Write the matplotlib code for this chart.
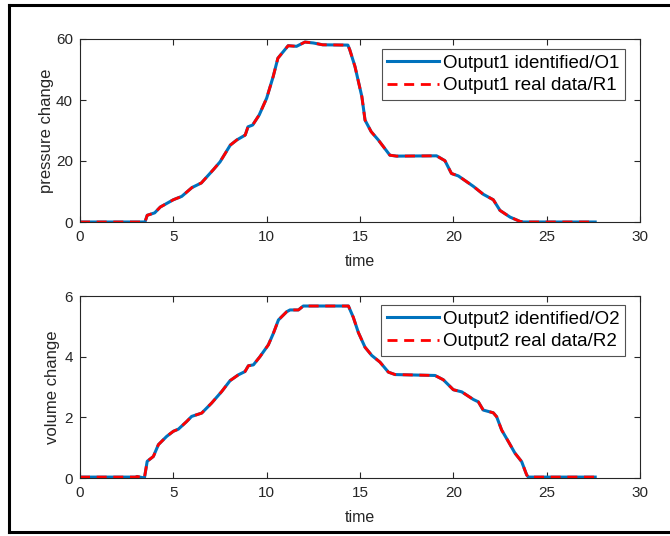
import matplotlib
matplotlib.use("Agg")
import matplotlib.pyplot as plt
from matplotlib.lines import Line2D

plt.rcParams['font.family'] = ['Liberation Sans', 'DejaVu Sans']

# output 1: pressure change
t1 = [0, 3.48, 3.6, 4.0, 4.3, 5.0, 5.45, 6.0, 6.5, 7.15, 7.5, 8.05, 8.4, 8.85,
      9.0, 9.25, 9.6, 10.0, 10.35, 10.6, 11.15, 11.6, 12.05, 12.5, 13.0, 14.35,
      14.45, 14.73, 15.1, 15.27, 15.6, 15.98, 16.6, 16.96, 19.1, 19.55, 19.9,
      20.27, 21.07, 21.6, 22.14, 22.5, 23.04, 23.57, 23.75, 27.6]
p1 = [0, 0, 2.2, 3.0, 4.9, 7.3, 8.4, 11.3, 12.8, 17.2, 19.7, 25.2, 26.9, 28.5,
      31.2, 31.8, 35.1, 40.6, 47.7, 53.7, 57.8, 57.6, 59.0, 58.7, 58.1, 58.0,
      56.5, 51.0, 41.1, 33.4, 29.6, 26.9, 21.9, 21.6, 21.7, 20.1, 15.9,
      15.1, 11.7, 9.1, 7.3, 3.8, 1.6, 0.2, 0, 0]

# output 2: volume change
t2 = [0, 3.0, 3.05, 3.45, 3.6, 3.93, 4.2, 4.64, 5.0, 5.27, 5.71, 5.98, 6.52,
      7.05, 7.59, 8.04, 8.48, 8.84, 9.02, 9.29, 9.64, 10.09, 10.36, 10.63,
      11.07, 11.25, 11.7, 11.96, 14.38, 14.64, 14.91, 15.27, 15.63, 16.07,
      16.52, 16.88, 19.02, 19.46, 20.0, 20.45, 21.07, 21.34, 21.6, 22.14,
      22.32, 22.59, 22.95, 23.3, 23.66, 23.93, 24.02, 27.6]
v2 = [0.03, 0.03, 0.05, 0.0, 0.55, 0.71, 1.10, 1.37, 1.54, 1.61, 1.86, 2.03,
      2.14, 2.47, 2.85, 3.21, 3.40, 3.51, 3.70, 3.73, 4.0, 4.39, 4.77, 5.21,
      5.48, 5.54, 5.54, 5.67, 5.67, 5.3, 4.8, 4.31, 4.04, 3.82, 3.49, 3.41,
      3.38, 3.24, 2.91, 2.84, 2.59, 2.51, 2.24, 2.15, 2.02, 1.58, 1.2, 0.82,
      0.54, 0.1, 0.03, 0.03]

ylabels = ["pressure change", "volume change"]
legends = [["Output1 identified/O1", "Output1 real data/R1"],
           ["Output2 identified/O2", "Output2 real data/R2"]]

fig = plt.figure(figsize=(6.7, 5.36), dpi=100)
W, H = 670, 536

# screenshot frame
for xs, ys in [([8.5, 8.5], [5, 532]), ([8.5, 670], [5, 5]), ([8.5, 670], [532, 532])]:
    fig.add_artist(Line2D([x / W for x in xs], [1 - y / H for y in ys],
                          color='black', lw=2.2, transform=fig.transFigure))

boxes = [(80, 39, 640, 222), (80, 296, 640, 478)]
data = [(t1, p1, 60, [0, 20, 40, 60]), (t2, v2, 6, [0, 2, 4, 6])]
ylab_x = [47, 53]
leg_top = [49, 305]

for i, (b, d) in enumerate(zip(boxes, data)):
    x0, y0, x1, y1 = b
    ax = fig.add_axes([x0 / W, 1 - y1 / H, (x1 - x0) / W, (y1 - y0) / H])
    t, v, ymax, yt = d
    ax.plot(t, v, color='#0072BD', lw=2.2, label=legends[i][0])
    ax.plot(t, v, color='#FF0000', lw=2.0, ls=(0, (3.6, 2.4)), label=legends[i][1])
    ax.set_xlim(0, 30)
    ax.set_ylim(0, ymax)
    ax.set_xticks(range(0, 31, 5))
    ax.set_yticks(yt)
    ax.tick_params(direction='in', top=True, right=True, labelsize=11,
                   colors='#262626', length=4, width=0.8)
    ax.tick_params(axis='x', pad=6)
    ax.tick_params(axis='y', pad=5)
    for s in ax.spines.values():
        s.set_color('#262626')
        s.set_linewidth(0.8)
    ax.set_xlabel("time", fontsize=11.5, color='#262626')
    ax.set_ylabel(ylabels[i], fontsize=12, color='#262626')
    ax.xaxis.set_label_coords(0.5, -39 / (y1 - y0))
    ax.xaxis.label.set_va('center')
    ax.yaxis.set_label_coords((ylab_x[i] - x0) / (x1 - x0), 0.5)
    ax.yaxis.label.set_va('center')
    leg = ax.legend(loc='upper right',
                    bbox_to_anchor=((625 - x0) / (x1 - x0), 1 - (leg_top[i] - y0) / (y1 - y0)),
                    fontsize=13.5, frameon=True, fancybox=False, handlelength=2.75,
                    handletextpad=0.22, borderpad=0.3, labelspacing=0.3,
                    borderaxespad=0)
    leg.get_frame().set_edgecolor('#262626')
    leg.get_frame().set_linewidth(0.8)

fig.savefig("out.png", dpi=100)
